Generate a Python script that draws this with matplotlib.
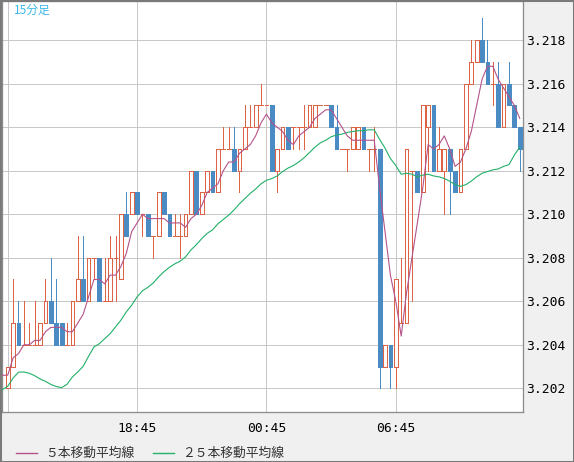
import numpy as np
import pandas as pd
import matplotlib
matplotlib.use("Agg")
import matplotlib.pyplot as plt
from matplotlib.patches import Rectangle
from matplotlib.lines import Line2D
from matplotlib.ticker import FormatStrFormatter

# ---------------- data ----------------
timeframe_label = "15分足"
legend_labels = ["５本移動平均線", "２５本移動平均線"]
x_tick_bars = [0, 24, 48, 72]
x_tick_labels = ["", "18:45", "00:45", "06:45"]
y_ticks = [3.202, 3.204, 3.206, 3.208, 3.210, 3.212, 3.214, 3.216, 3.218]

opens = [3.202, 3.203, 3.205, 3.204, 3.204, 3.204, 3.204, 3.205, 3.206, 3.205,
         3.205, 3.204, 3.204, 3.206, 3.207, 3.206, 3.208, 3.208, 3.206, 3.206,
         3.208, 3.207, 3.210, 3.210, 3.211, 3.210, 3.210, 3.209, 3.209, 3.211,
         3.210, 3.209, 3.209, 3.209, 3.210, 3.212, 3.210, 3.211, 3.212, 3.211,
         3.213, 3.213, 3.213, 3.212, 3.213, 3.214, 3.214, 3.215, 3.215, 3.215,
         3.212, 3.213, 3.214, 3.214, 3.214, 3.214, 3.214, 3.214, 3.215, 3.215,
         3.215, 3.214, 3.213, 3.213, 3.213, 3.213, 3.214, 3.213, 3.213, 3.213,
         3.203, 3.204, 3.203, 3.205, 3.205, 3.212, 3.212, 3.211, 3.214, 3.215,
         3.212, 3.212, 3.213, 3.212, 3.211, 3.213, 3.216, 3.217, 3.218, 3.217,
         3.216, 3.216, 3.214, 3.216, 3.215, 3.214]
highs = [3.203, 3.207, 3.206, 3.206, 3.205, 3.206, 3.205, 3.207, 3.208, 3.207,
         3.205, 3.205, 3.206, 3.209, 3.209, 3.208, 3.208, 3.208, 3.208, 3.209,
         3.209, 3.210, 3.211, 3.211, 3.211, 3.210, 3.210, 3.209, 3.211, 3.211,
         3.210, 3.210, 3.210, 3.210, 3.212, 3.212, 3.211, 3.212, 3.212, 3.213,
         3.214, 3.214, 3.214, 3.213, 3.215, 3.215, 3.215, 3.216, 3.215, 3.215,
         3.213, 3.214, 3.214, 3.214, 3.214, 3.215, 3.215, 3.215, 3.215, 3.215,
         3.215, 3.215, 3.213, 3.213, 3.214, 3.214, 3.214, 3.213, 3.214, 3.213,
         3.204, 3.204, 3.207, 3.208, 3.213, 3.212, 3.212, 3.215, 3.215, 3.215,
         3.214, 3.213, 3.213, 3.212, 3.213, 3.216, 3.218, 3.218, 3.219, 3.218,
         3.217, 3.217, 3.216, 3.217, 3.215, 3.214]
lows = [3.202, 3.203, 3.204, 3.204, 3.204, 3.204, 3.204, 3.205, 3.205, 3.204,
        3.204, 3.204, 3.204, 3.206, 3.206, 3.206, 3.207, 3.206, 3.206, 3.206,
        3.206, 3.207, 3.209, 3.210, 3.210, 3.209, 3.209, 3.208, 3.209, 3.210,
        3.209, 3.209, 3.208, 3.209, 3.210, 3.210, 3.210, 3.211, 3.211, 3.211,
        3.213, 3.213, 3.212, 3.211, 3.213, 3.214, 3.214, 3.215, 3.215, 3.212,
        3.211, 3.213, 3.213, 3.213, 3.213, 3.213, 3.214, 3.214, 3.215, 3.215,
        3.214, 3.213, 3.213, 3.212, 3.213, 3.213, 3.213, 3.212, 3.212, 3.202,
        3.203, 3.202, 3.202, 3.205, 3.205, 3.206, 3.211, 3.211, 3.212, 3.212,
        3.212, 3.210, 3.210, 3.211, 3.211, 3.213, 3.216, 3.217, 3.217, 3.216,
        3.215, 3.214, 3.214, 3.215, 3.214, 3.212]
closes = [3.203, 3.205, 3.204, 3.204, 3.204, 3.204, 3.205, 3.206, 3.205, 3.204,
          3.204, 3.204, 3.206, 3.207, 3.206, 3.208, 3.208, 3.206, 3.206, 3.208,
          3.208, 3.210, 3.209, 3.211, 3.210, 3.210, 3.209, 3.209, 3.211, 3.210,
          3.209, 3.209, 3.209, 3.210, 3.212, 3.210, 3.211, 3.212, 3.211, 3.213,
          3.213, 3.213, 3.212, 3.213, 3.214, 3.214, 3.215, 3.215, 3.215, 3.212,
          3.213, 3.214, 3.213, 3.214, 3.214, 3.214, 3.215, 3.215, 3.215, 3.215,
          3.214, 3.213, 3.213, 3.213, 3.214, 3.214, 3.213, 3.213, 3.213, 3.203,
          3.204, 3.203, 3.207, 3.205, 3.213, 3.212, 3.211, 3.215, 3.215, 3.212,
          3.213, 3.213, 3.212, 3.211, 3.213, 3.216, 3.217, 3.218, 3.217, 3.216,
          3.216, 3.214, 3.216, 3.215, 3.214, 3.213]
# closes of the five bars before the window (estimated from the 5-bar MA line)
prev_closes = [3.203, 3.201, 3.203, 3.202, 3.204]
# 25-bar MA for bars -1 .. 23 (earlier data not shown)
ma25_head = [3.20194, 3.20209, 3.20247, 3.20274, 3.20275, 3.20269, 3.20258,
             3.20243, 3.20232, 3.20218, 3.20208, 3.20203, 3.20218, 3.20252,
             3.20275, 3.20301, 3.20347, 3.20390, 3.20405, 3.20428, 3.20451,
             3.20482, 3.20513, 3.20551, 3.20582]

# ---------------- style ----------------
RED = "#DC6445"
BLUE = "#4A8BC4"
MA5_C = "#B4538A"
MA25_C = "#22B06A"
GRID = "#C8C8C8"
PX = 0.72  # one pixel in points at 100 dpi

plt.rcParams["font.family"] = ["DejaVu Sans Mono"]
cjk = ["Noto Sans CJK JP", "DejaVu Sans"]

fig = plt.figure(figsize=(5.74, 4.62), dpi=100, facecolor="#F0F0F0")
ax = fig.add_axes([2 / 574, 50 / 462, 521 / 574, 411 / 462])
ax.set_facecolor("white")

n = len(closes)
w = 0.7
for i in range(n):
    o, h, l, c = opens[i], highs[i], lows[i], closes[i]
    up = c >= o
    col = RED if up else BLUE
    ax.vlines(i, l, h, color=col, lw=PX, antialiased=False, zorder=3)
    if c > o:
        ax.add_patch(Rectangle((i - w / 2, o), w, c - o, facecolor="white",
                               edgecolor=RED, lw=PX, antialiased=False, zorder=4))
    elif c < o:
        ax.add_patch(Rectangle((i - w / 2, c), w, o - c, facecolor=BLUE,
                               edgecolor=BLUE, lw=PX, antialiased=False, zorder=4))
    else:
        ax.hlines(o, i - w / 2, i + w / 2, color=RED, lw=PX,
                  antialiased=False, zorder=4)

all_closes = pd.Series(prev_closes + closes)
ma5 = all_closes.rolling(5).mean().iloc[4:].to_numpy()
ma5_x = np.arange(-1, n)
ma25_tail = pd.Series(closes).rolling(25).mean().iloc[24:].to_numpy()
ma25 = np.concatenate([ma25_head, ma25_tail])
ma25_x = np.arange(-1, n)

ax.plot(ma25_x, ma25, color=MA25_C, lw=0.8, antialiased=True, zorder=5)
ax.plot(ma5_x, ma5, color=MA5_C, lw=0.8, antialiased=True, zorder=6)

ax.set_xlim(-1.06, 95.6)
ax.set_ylim(3.20091, 3.21980)
ax.set_yticks(y_ticks)
ax.yaxis.set_major_formatter(FormatStrFormatter("%.3f"))
ax.set_xticks(x_tick_bars)
ax.set_xticklabels(x_tick_labels)
ax.yaxis.tick_right()
ax.grid(True, color=GRID, lw=PX, antialiased=False, zorder=0)
ax.set_axisbelow(True)
ax.tick_params(axis="both", length=0, labelsize=9.4, colors="black")
ax.tick_params(axis="y", pad=2.5)
ax.tick_params(axis="x", pad=7.5)
for s in ax.spines.values():
    s.set_color("#8C8C8C")
    s.set_linewidth(PX * 1.3)

ax.text(12 / 521, 1 - 3 / 411, timeframe_label, transform=ax.transAxes,
        ha="left", va="top", fontsize=8.5, color="#3AB8EA", family=cjk)

# legend
ly = (462 - 453) / 462
fig.add_artist(Line2D([16 / 574, 37 / 574], [ly, ly], color=MA5_C, lw=1.0,
                      transform=fig.transFigure))
fig.text(45 / 574, ly, legend_labels[0], ha="left", va="center",
         fontsize=9.2, color="#333333", family=cjk)
fig.add_artist(Line2D([153 / 574, 174 / 574], [ly, ly], color=MA25_C, lw=1.0,
                      transform=fig.transFigure))
fig.text(182 / 574, ly, legend_labels[1], ha="left", va="center",
         fontsize=9.2, color="#333333", family=cjk)

fig.add_artist(Rectangle((0, 0), 1, 1, transform=fig.transFigure, fill=False,
                         edgecolor="#7A7A7A", lw=2.2))

fig.savefig("out.png", dpi=100, facecolor=fig.get_facecolor())
